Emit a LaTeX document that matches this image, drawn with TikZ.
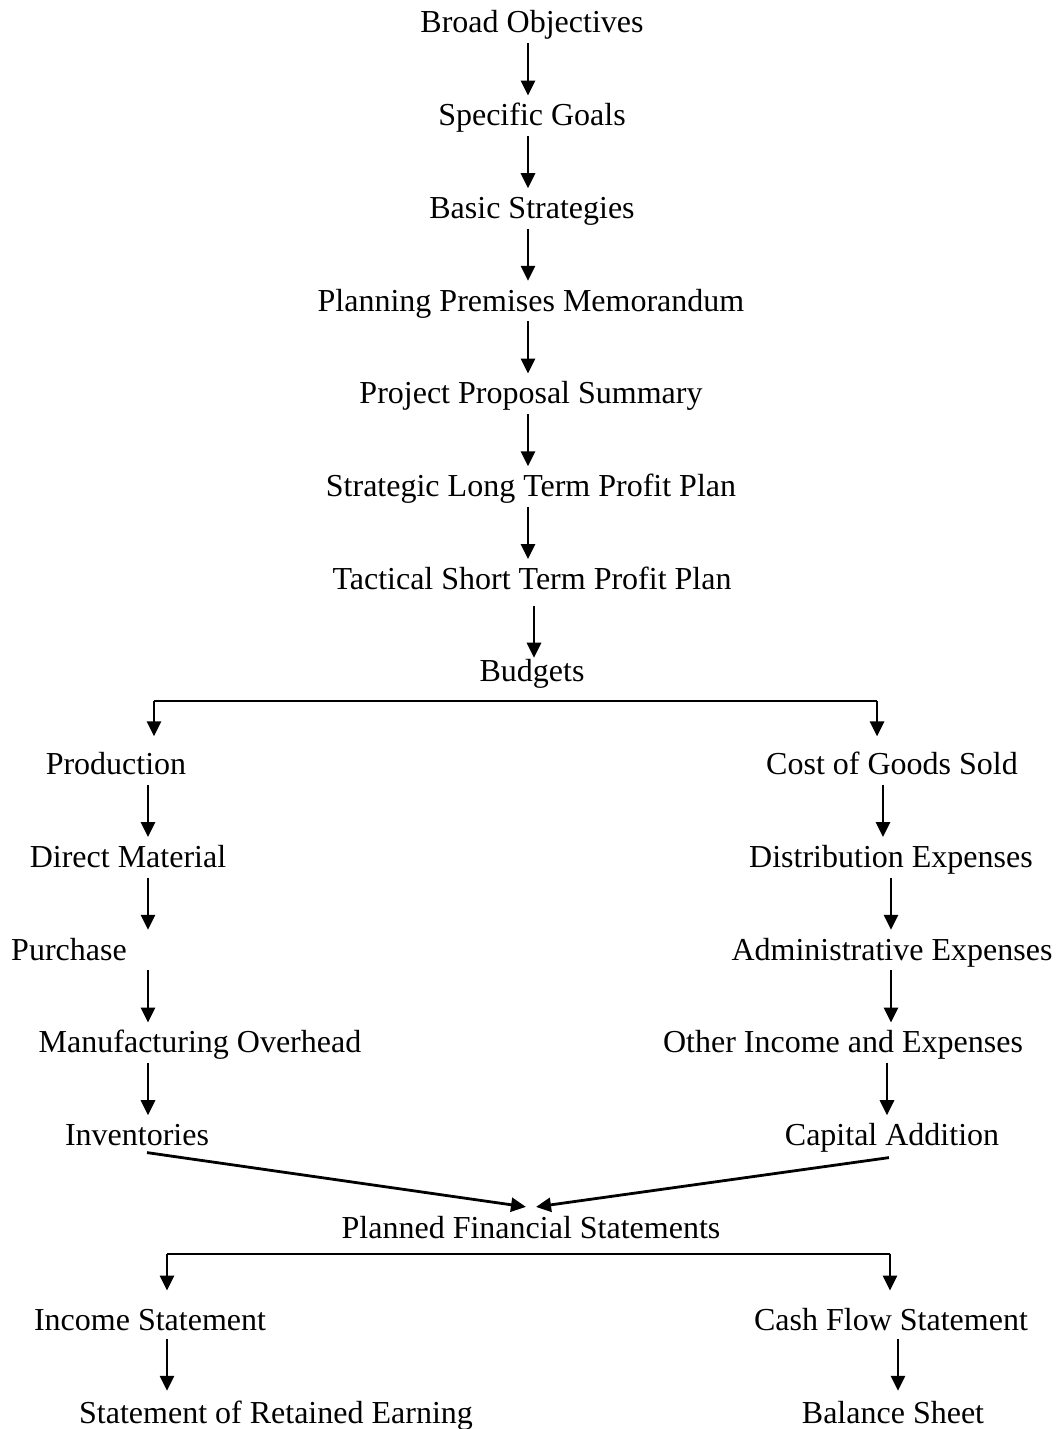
\documentclass[tikz,border=0pt]{standalone}
\usepackage{fontspec}
\setmainfont{Liberation Serif}
\usetikzlibrary{arrows.meta}
\begin{document}
\begin{tikzpicture}[x=1pt,y=-1pt,
  txt/.style={font=\fontsize{32}{38}\selectfont, inner sep=0pt, text height=22pt, text depth=7pt, anchor=base},
  arr/.style={line width=2.8pt, -{Triangle[width=14pt,length=15pt]}},
  link/.style={arr, shorten <=3pt, shorten >=8pt},
  ln/.style={line width=2.8pt}]
\useasboundingbox (0,0) rectangle (1060,1429);
% main column
\node[txt] (bo)  at (532,33)    {Broad Objectives};
\node[txt] (sg)  at (532,125.7) {Specific Goals};
\node[txt] (bs)  at (532,218.4) {Basic Strategies};
\node[txt] (ppm) at (531,311.1) {Planning Premises Memorandum};
\node[txt] (pps) at (531,403.8) {Project Proposal Summary};
\node[txt] (sl)  at (531,496.5) {Strategic Long Term Profit Plan};
\node[txt] (ts)  at (532,589.2) {Tactical Short Term Profit Plan};
\node[txt] (bu)  at (532,681.9) {Budgets};
% left column
\node[txt] (pr)  at (116,774.6)  {Production};
\node[txt] (dm)  at (128,867.3)  {Direct Material};
\node[txt] (pu)  at (69,960)     {Purchase};
\node[txt] (mo)  at (200,1052.7) {Manufacturing Overhead};
\node[txt] (inv) at (137,1145.4) {Inventories};
% right column
\node[txt] (cg)  at (892,774.6)  {Cost of Goods Sold};
\node[txt] (de)  at (891,867.3)  {Distribution Expenses};
\node[txt] (ae)  at (892,960)    {Administrative Expenses};
\node[txt] (oi)  at (843,1052.7) {Other Income and Expenses};
\node[txt] (ca)  at (892,1145.4) {Capital Addition};
% bottom
\node[txt] (pfs) at (531,1238.1) {Planned Financial Statements};
\node[txt] (is)  at (150,1330.8) {Income Statement};
\node[txt] (cfs) at (891,1330.8) {Cash Flow Statement};
\node[txt] (sre) at (276,1423)   {Statement of Retained Earning};
\node[txt] (bsh) at (893,1423)   {Balance Sheet};

% main column arrows
\draw[link] (bo.south -| 528,0)  -- (sg.north -| 528,0);
\draw[link] (sg.south -| 528,0)  -- (bs.north -| 528,0);
\draw[link] (bs.south -| 528,0)  -- (ppm.north -| 528,0);
\draw[link] (ppm.south -| 528,0) -- (pps.north -| 528,0);
\draw[link] (pps.south -| 528,0) -- (sl.north -| 528,0);
\draw[link] (sl.south -| 528,0)  -- (ts.north -| 528,0);
\draw[arr, shorten <=10pt, shorten >=2pt] (ts.south -| 534,0) -- (bu.north -| 534,0);

% branch from Budgets
\coordinate (bl) at (154,701);
\coordinate (br) at (877,701);
\draw[ln] (bl) -- (br);
\draw[arr, shorten >=16pt] (bl) -- (pr.north -| bl);
\draw[arr, shorten >=16pt] (br) -- (cg.north -| br);

% left column arrows
\draw[link] (pr.south -| 148,0)  -- (dm.north -| 148,0);
\draw[link] (dm.south -| 148,0)  -- (pu.north -| 148,0);
\draw[link] (pu.south -| 148,0)  -- (mo.north -| 148,0);
\draw[link] (mo.south -| 148,0)  -- (inv.north -| 148,0);

% right column arrows
\draw[link] (cg.south -| 883,0)  -- (de.north -| 883,0);
\draw[link] (de.south -| 891,0)  -- (ae.north -| 891,0);
\draw[link] (ae.south -| 891,0)  -- (oi.north -| 891,0);
\draw[link] (oi.south -| 887,0)  -- (ca.north -| 887,0);

% converging arrows
\draw[arr] (inv.south -| 147,0) -- ([xshift=-5pt,yshift=9pt]pfs.north);
\draw[arr] ([yshift=-5pt]ca.south -| 889,0) -- ([xshift=5pt,yshift=9pt]pfs.north);

% branch from Planned Financial Statements
\coordinate (fl) at (167,1254);
\coordinate (fr) at (890,1254);
\draw[ln] (fl) -- (fr);
\draw[arr, shorten >=18pt] (fl) -- (is.north -| fl);
\draw[arr, shorten >=18pt] (fr) -- (cfs.north -| fr);

\draw[arr, shorten <=1pt, shorten >=10pt] (is.south -| 167,0) -- (sre.north -| 167,0);
\draw[arr, shorten <=1pt, shorten >=10pt] (cfs.south -| 898,0) -- (bsh.north -| 898,0);
\end{tikzpicture}
\end{document}
